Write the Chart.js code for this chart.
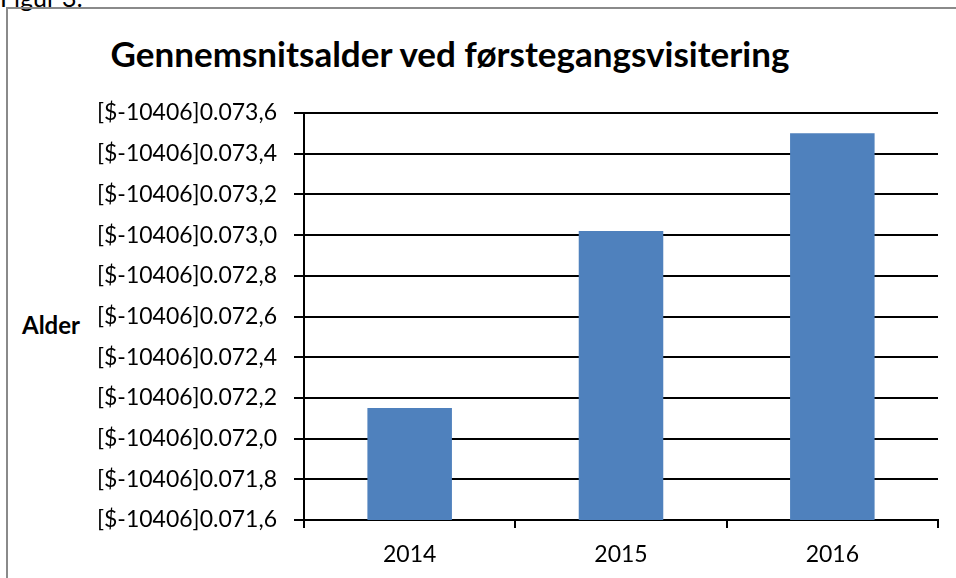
<!DOCTYPE html>
<html lang="da">
<head>
    <meta charset="UTF-8">
    <title>Gennemsnitsalder ved førstegangsvisitering</title>
    <script src="https://cdn.jsdelivr.net/npm/chart.js"></script>
    <style>
        body {
            margin: 0;
            padding: 0;
            width: 956px;
            height: 578px;
            overflow: hidden;
            background: #ffffff;
            font-family: Lato, 'Open Sans', sans-serif;
            color: #000;
            position: relative;
        }
        /* ramme rundt om figuren */
        .ramme {
            position: absolute;
            left: 6px;
            top: 7px;
            width: 1000px;
            height: 600px;
            border-left: 2px solid #8a8a8a;
            border-top: 2px solid #8a8a8a;
        }
        .figur {
            position: absolute;
            left: 0;
            top: -15px;
            font-size: 25px;
            line-height: 1;
        }
        .titel {
            position: absolute;
            left: 0;
            width: 900px;
            top: 32px;
            text-align: center;
            font-size: 35px;
            font-weight: bold;
            line-height: 1.2;
        }
        .akse {
            position: absolute;
            left: 22px;
            top: 310px;
            font-size: 24px;
            font-weight: bold;
        }
        #wrap {
            position: absolute;
            left: 0;
            top: 0;
            width: 956px;
            height: 578px;
        }
    </style>
</head>
<body>
    <div class="figur">Figur 3:</div>
    <div class="ramme"></div>
    <div class="titel">Gennemsnitsalder ved førstegangsvisitering</div>
    <div class="akse">Alder</div>
    <div id="wrap"><canvas id="graf"></canvas></div>
    <script>
        // data
        const aar = ['2014', '2015', '2016'];
        const alder = [72.15, 73.02, 73.50];
        const yTicks = [71.6, 71.8, 72.0, 72.2, 72.4, 72.6, 72.8, 73.0, 73.2, 73.4, 73.6];
        const tickPrefix = '[$-10406]0.0';

        const ctx = document.getElementById('graf').getContext('2d');
        new Chart(ctx, {
            type: 'bar',
            data: {
                labels: aar,
                datasets: [{
                    label: 'Alder',
                    data: alder,
                    backgroundColor: '#4f81bd',
                    borderWidth: 0,
                    barPercentage: 0.4,
                    categoryPercentage: 1.0
                }]
            },
            options: {
                responsive: true,
                maintainAspectRatio: false,
                animation: false,
                layout: {
                    padding: { top: 113, bottom: 4, left: 0, right: 18 }
                },
                plugins: {
                    legend: { display: false },
                    title: { display: false },
                    tooltip: { enabled: false }
                },
                scales: {
                    x: {
                        grid: {
                            display: true,
                            offset: true,
                            drawOnChartArea: false,
                            color: '#000',
                            lineWidth: 2,
                            tickLength: 8
                        },
                        border: { color: '#000', width: 2 },
                        ticks: {
                            color: '#000',
                            padding: 13,
                            font: { family: 'Lato', size: 23 }
                        },
                        afterFit: (scale) => { scale.height = 54; }
                    },
                    y: {
                        min: yTicks[0],
                        max: yTicks[yTicks.length - 1],
                        afterBuildTicks: (scale) => {
                            scale.ticks = yTicks.map(v => ({ value: v }));
                        },
                        grid: {
                            color: '#000',
                            lineWidth: 2,
                            tickLength: 10
                        },
                        border: { color: '#000', width: 2 },
                        ticks: {
                            color: '#000',
                            padding: 17,
                            font: { family: 'Lato', size: 23 },
                            callback: (v) => tickPrefix + Number(v).toFixed(1).replace('.', ',')
                        },
                        afterFit: (scale) => { scale.width = 304; }
                    }
                }
            }
        });
    </script>
</body>
</html>
